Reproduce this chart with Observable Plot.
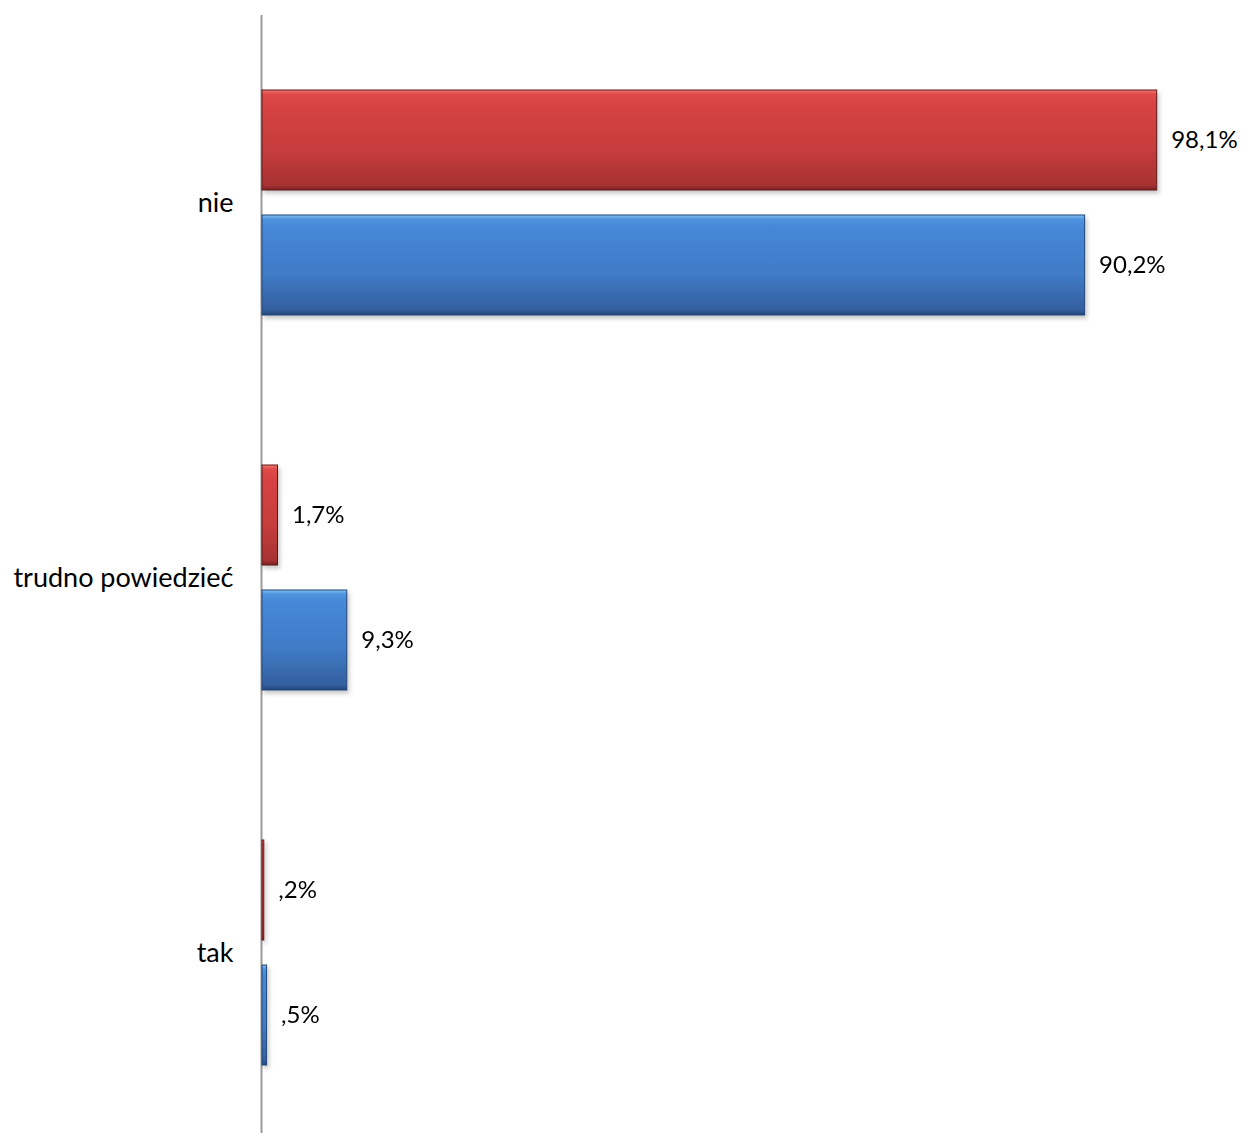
<!DOCTYPE html>
<html>
<head>
<meta charset="utf-8">
<script src="https://cdn.jsdelivr.net/npm/d3@7"></script>
<script src="https://cdn.jsdelivr.net/npm/@observablehq/plot@0.6"></script>
<style>
  html, body { margin: 0; padding: 0; background: #fff; }
</style>
</head>
<body>
<div id="chart"></div>
<script>
const categories = ["nie", "trudno powiedzieć", "tak"];
const seriesNames = ["seria 1", "seria 2"];
const redValues = [98.1, 1.7, 0.2];
const blueValues = [90.2, 9.3, 0.5];

const data = categories.flatMap((c, i) => [
  {cat: c, s: seriesNames[0], v: redValues[i]},
  {cat: c, s: seriesNames[1], v: blueValues[i]}
]);
const fmt = v => v.toFixed(1).replace(".", ",").replace(/^0/, "") + "%";

const chart = Plot.plot({
  width: 1242,
  height: 1133,
  marginLeft: 262,
  marginRight: 68,
  marginTop: 14,
  marginBottom: 0,
  style: {fontFamily: "Lato, 'Open Sans', sans-serif", fontSize: "24px", color: "#000", background: "#fff"},
  x: {domain: [0, 100], axis: null},
  y: {domain: seriesNames, axis: null, paddingInner: 0.2, paddingOuter: 0.6},
  fy: {domain: categories, padding: 0, label: null, range: [14, 1140]},
  marks: [
    Plot.ruleX([0], {stroke: "#9a9a9a", strokeWidth: 2, dx: -1}),
    Plot.barX(data.filter(d => d.s === seriesNames[0]), {
      fy: "cat", y: "s", x: "v",
      fill: "url(#gRed)", stroke: "#5e1a1a", strokeWidth: 1
    }),
    Plot.barX(data.filter(d => d.s === seriesNames[1]), {
      fy: "cat", y: "s", x: "v",
      fill: "url(#gBlue)", stroke: "#23467a", strokeWidth: 1
    }),
    Plot.text(data, {
      fy: "cat", y: "s", x: "v", text: d => fmt(d.v),
      textAnchor: "start", dx: 14, fontSize: 24, fill: "#000"
    }),
    Plot.axisFy({anchor: "left", tickSize: 0, tickPadding: 29, fontSize: 27, label: null})
  ]
});

const defs = d3.select(chart).insert("defs", ":first-child");
function grad(id, stops) {
  const g = defs.append("linearGradient").attr("id", id)
    .attr("x1", 0).attr("y1", 0).attr("x2", 0).attr("y2", 1);
  stops.forEach(([o, c]) => g.append("stop").attr("offset", o).attr("stop-color", c));
}
grad("gRed", [["0", "#f07a72"], ["0.04", "#e04a48"], ["0.12", "#d84444"], ["0.6", "#c63c3c"], ["0.95", "#a83232"], ["1", "#7a2222"]]);
grad("gBlue", [["0", "#86c0f2"], ["0.04", "#4f95de"], ["0.12", "#4688d8"], ["0.6", "#3f7bc6"], ["0.95", "#345f9e"], ["1", "#23467a"]]);
const f = defs.append("filter").attr("id", "shadow").attr("x", "-5%").attr("y", "-10%").attr("width", "120%").attr("height", "130%");
f.append("feDropShadow").attr("dx", 2).attr("dy", 3).attr("stdDeviation", 2).attr("flood-color", "#000").attr("flood-opacity", 0.22);
d3.select(chart).selectAll("g[aria-label='bar']").attr("filter", "url(#shadow)");

document.getElementById("chart").appendChild(chart);
</script>
</body>
</html>
